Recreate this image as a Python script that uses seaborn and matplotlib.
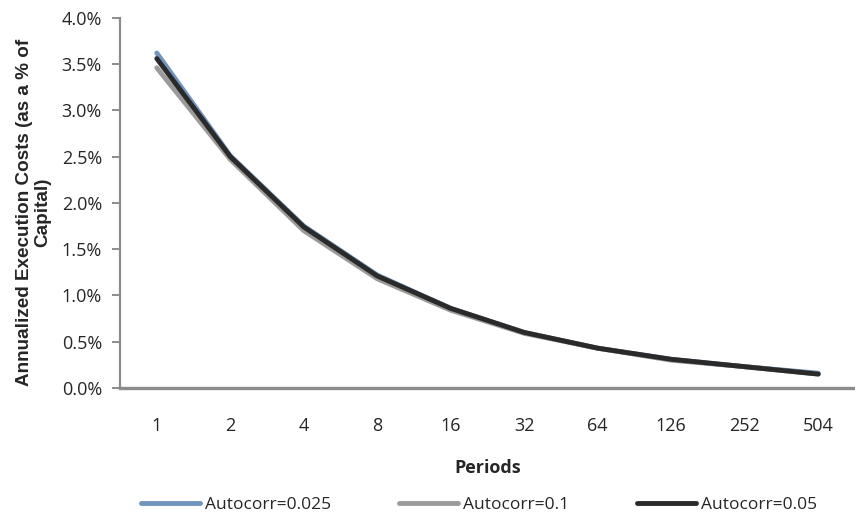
import numpy as np
import pandas as pd
import matplotlib.pyplot as plt
import seaborn as sns

periods = ["1", "2", "4", "8", "16", "32", "64", "126", "252", "504"]
ac_0025 = [3.62, 2.51, 1.75, 1.22, 0.86, 0.60, 0.43, 0.31, 0.23, 0.16]
ac_01 = [3.46, 2.47, 1.70, 1.18, 0.84, 0.59, 0.43, 0.30, 0.23, 0.15]
ac_005 = [3.56, 2.50, 1.74, 1.21, 0.86, 0.60, 0.43, 0.31, 0.23, 0.15]
series = ["Autocorr=0.025", "Autocorr=0.1", "Autocorr=0.05"]
colors = ["#6f94bd", "#9b9b9b", "#2a2a2a"]

df = pd.DataFrame({
    "pos": list(range(len(periods))) * 3,
    "cost": ac_0025 + ac_01 + ac_005,
    "series": np.repeat(series, len(periods)),
})

sns.set_style("white")
plt.rcParams["font.family"] = ["Open Sans", "DejaVu Sans"]

fig = plt.figure(figsize=(8.55, 5.25), dpi=100)
ax = fig.add_axes([0.1404, 0.261, 0.8596, 0.705])
sns.lineplot(data=df, x="pos", y="cost", hue="series", palette=colors,
             hue_order=series, linewidth=3.5, ax=ax, legend=False)

ax.set_xlim(-0.5, len(periods) - 0.5)
ax.set_ylim(0, 4)
ax.set_xticks(range(len(periods)))
ax.set_xticklabels(periods, fontsize=13)
ax.set_xticks(np.arange(-0.5, len(periods), 1), minor=True)
ax.tick_params(axis="x", which="major", length=0, pad=21)
ax.tick_params(axis="x", which="minor", length=6, color="#8c8c8c", width=1.4)
ax.set_yticks(np.arange(0, 4.01, 0.5))
ax.set_yticklabels([f"{v:.1f}%" for v in np.arange(0, 4.01, 0.5)], fontsize=13)
ax.tick_params(axis="y", length=6, color="#8c8c8c", width=1.4, direction="out",
               left=True, pad=7)

for s in ["top", "right"]:
    ax.spines[s].set_visible(False)
ax.spines["left"].set_color("#8c8c8c")
ax.spines["left"].set_linewidth(1.6)
ax.spines["bottom"].set_color("#8c8c8c")
ax.spines["bottom"].set_linewidth(2.4)

ax.set_xlabel("Periods", fontsize=13, fontweight="bold", labelpad=17)
ax.set_ylabel("Annualized Execution Costs (as a % of\nCapital)", fontsize=13.6,
              fontweight="bold", linespacing=1.1,
              family=["Liberation Sans", "DejaVu Sans"])
ax.yaxis.set_label_coords(-0.093, 0.475)

handles = [plt.Line2D([], [], color=c, lw=3.5) for c in colors]
fig.legend(handles, series, loc="center", ncol=3, frameon=False,
           fontsize=12.5, bbox_to_anchor=(0.56, 0.038), columnspacing=3.9,
           handlelength=3.4, handletextpad=0.3)

fig.savefig("out.png", dpi=100)
